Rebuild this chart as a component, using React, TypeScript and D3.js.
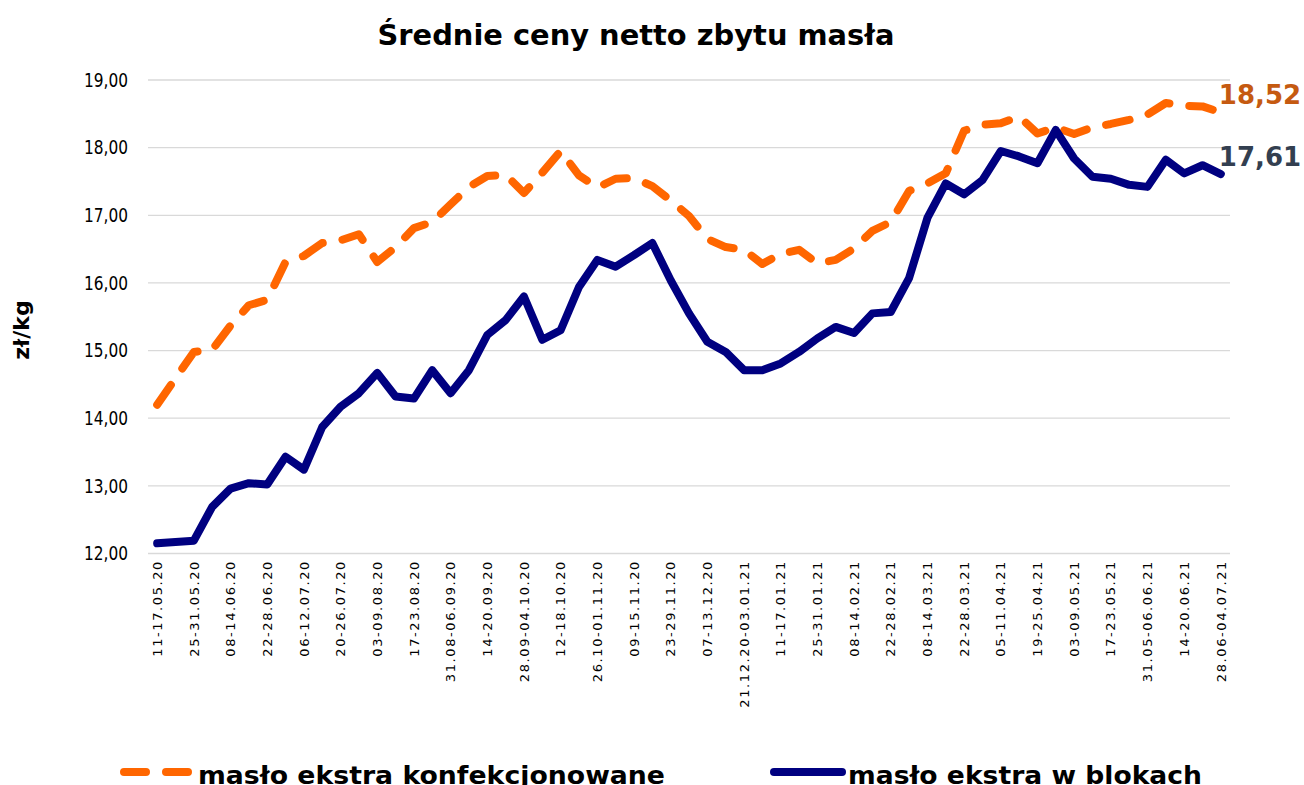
import React from "react";
import * as d3 from "d3";

const categories: string[] = [
  "11-17.05.20", "18-24.05.20", "25-31.05.20", "01-07.06.20", "08-14.06.20", "15-21.06.20",
  "22-28.06.20", "29.06-05.07.20", "06-12.07.20", "13-19.07.20", "20-26.07.20", "27.07-02.08.20",
  "03-09.08.20", "10-16.08.20", "17-23.08.20", "24-30.08.20", "31.08-06.09.20", "07-13.09.20",
  "14-20.09.20", "21-27.09.20", "28.09-04.10.20", "05-11.10.20", "12-18.10.20", "19-25.10.20",
  "26.10-01.11.20", "02-08.11.20", "09-15.11.20", "16-22.11.20", "23-29.11.20", "30.11-06.12.20",
  "07-13.12.20", "14-20.12.20", "21.12.20-03.01.21", "04-10.01.21", "11-17.01.21", "18-24.01.21",
  "25-31.01.21", "01-07.02.21", "08-14.02.21", "15-21.02.21", "22-28.02.21", "01-07.03.21",
  "08-14.03.21", "15-21.03.21", "22-28.03.21", "29.03-04.04.21", "05-11.04.21", "12-18.04.21",
  "19-25.04.21", "26.04-02.05.21", "03-09.05.21", "10-16.05.21", "17-23.05.21", "24-30.05.21",
  "31.05-06.06.21", "07-13.06.21", "14-20.06.21", "21-27.06.21", "28.06-04.07.21",
];

const konfekcjonowane: number[] = [
  14.2, 14.59, 14.98, 15.01, 15.37, 15.67, 15.75, 16.31, 16.4, 16.59,
  16.63, 16.72, 16.31, 16.53, 16.81, 16.9, 17.16, 17.42, 17.58, 17.6,
  17.33, 17.63, 17.95, 17.59, 17.41, 17.54, 17.55, 17.43, 17.22, 16.99,
  16.65, 16.53, 16.49, 16.28, 16.43, 16.49, 16.29, 16.34, 16.51, 16.77,
  16.9, 17.36, 17.47, 17.62, 18.25, 18.34, 18.36, 18.46, 18.21, 18.3,
  18.2, 18.3, 18.35, 18.41, 18.49, 18.66, 18.62, 18.61, 18.52,
];

const blokach: number[] = [
  12.15, 12.17, 12.19, 12.69, 12.96, 13.04, 13.02, 13.43, 13.24, 13.87,
  14.17, 14.37, 14.67, 14.32, 14.29, 14.71, 14.37, 14.71, 15.23, 15.45,
  15.8, 15.16, 15.3, 15.94, 16.34, 16.24, 16.41, 16.59, 16.04, 15.55,
  15.13, 14.98, 14.71, 14.71, 14.81, 14.98, 15.18, 15.35, 15.26, 15.55,
  15.57, 16.07, 16.96, 17.47, 17.31, 17.52, 17.95, 17.87, 17.77, 18.26,
  17.84, 17.57, 17.54, 17.45, 17.42, 17.82, 17.62, 17.74, 17.61,
];

const yTicks: number[] = [12, 13, 14, 15, 16, 17, 18, 19];

const seriesNames: string[] = ["masło ekstra konfekcjonowane", "masło ekstra w blokach"];
const title = "Średnie ceny netto zbytu masła";
const yTitle = "zł/kg";

const ORANGE = "#ff6600";
const NAVY = "#000080";
const fmt = (v: number) => d3.format(".2f")(v).replace(".", ",");

export default function App() {
  const W = 1304;
  const H = 785;
  const x = d3.scaleBand<string>().domain(categories).range([148, 1230]);
  const y = d3.scaleLinear().domain([12, 19]).range([553.5, 80]);
  const cx = (i: number) => (x(categories[i]) as number) + x.bandwidth() / 2;
  const line = d3
    .line<number>()
    .x((_, i) => cx(i))
    .y((d) => y(d));
  const last = categories.length - 1;

  return (
    <svg
      width={W}
      height={H}
      style={{ position: "absolute", left: 0, top: 0, background: "#fff", overflow: "hidden" }}
    >
      <rect x={0} y={0} width={W} height={H} fill="#fff" />
      <text
        x={636}
        y={45}
        textAnchor="middle"
        fontFamily="DejaVu Sans, Verdana, sans-serif"
        fontWeight="bold"
        fontSize={28}
        textLength={517}
        lengthAdjust="spacingAndGlyphs"
        fill="#000"
      >
        {title}
      </text>

      {yTicks.map((t) => (
        <g key={t}>
          <line x1={148} x2={1230} y1={y(t)} y2={y(t)} stroke="#d9d9d9" strokeWidth={1.3} />
          <text
            x={128}
            y={y(t)}
            dy="0.36em"
            textAnchor="end"
            fontFamily="DejaVu Sans Condensed, Liberation Sans Narrow, DejaVu Sans, sans-serif"
            fontSize={19}
            textLength={44}
            lengthAdjust="spacingAndGlyphs"
            fill="#000"
          >
            {fmt(t)}
          </text>
        </g>
      ))}

      <text
        transform={`translate(29,330) rotate(-90)`}
        textAnchor="middle"
        fontFamily="DejaVu Sans, Verdana, sans-serif"
        fontWeight="bold"
        fontSize={22}
        fill="#000"
      >
        {yTitle}
      </text>

      {categories.map((c, i) =>
        i % 2 === 0 ? (
          <text
            key={c}
            transform={`translate(${cx(i)},560) rotate(-90)`}
            dy="0.36em"
            textAnchor="end"
            fontFamily="DejaVu Sans, Verdana, sans-serif"
            fontSize={13}
            letterSpacing={1.6}
            fill="#000"
          >
            {c}
          </text>
        ) : null
      )}

      <path
        d={line(konfekcjonowane) || ""}
        fill="none"
        stroke={ORANGE}
        strokeWidth={8}
        strokeDasharray="24 20"
        strokeLinecap="round"
        strokeLinejoin="round"
      />
      <path
        d={line(blokach) || ""}
        fill="none"
        stroke={NAVY}
        strokeWidth={8}
        strokeLinecap="round"
        strokeLinejoin="round"
      />

      <text
        x={cx(last) - 2}
        y={y(konfekcjonowane[last]) - 8}
        fontFamily="DejaVu Sans, Verdana, sans-serif"
        fontWeight="bold"
        fontSize={26}
        fill="#c55a11"
      >
        {fmt(konfekcjonowane[last])}
      </text>
      <text
        x={cx(last) - 2}
        y={y(blokach[last]) - 8}
        fontFamily="DejaVu Sans, Verdana, sans-serif"
        fontWeight="bold"
        fontSize={26}
        fill="#333f50"
      >
        {fmt(blokach[last])}
      </text>

      {/* legend */}
      <g>
        <line x1={124} x2={192} y1={772} y2={772} stroke={ORANGE} strokeWidth={8} strokeLinecap="round" strokeDasharray="22 20" />
        <text
          x={198}
          y={784}
          fontFamily="DejaVu Sans, Verdana, sans-serif"
          fontWeight="bold"
          fontSize={25}
          textLength={467}
          lengthAdjust="spacingAndGlyphs"
          fill="#000"
        >
          {seriesNames[0]}
        </text>
        <line x1={774} x2={842} y1={772} y2={772} stroke={NAVY} strokeWidth={8} strokeLinecap="round" />
        <text
          x={848}
          y={784}
          fontFamily="DejaVu Sans, Verdana, sans-serif"
          fontWeight="bold"
          fontSize={25}
          textLength={354}
          lengthAdjust="spacingAndGlyphs"
          fill="#000"
        >
          {seriesNames[1]}
        </text>
      </g>
    </svg>
  );
}
